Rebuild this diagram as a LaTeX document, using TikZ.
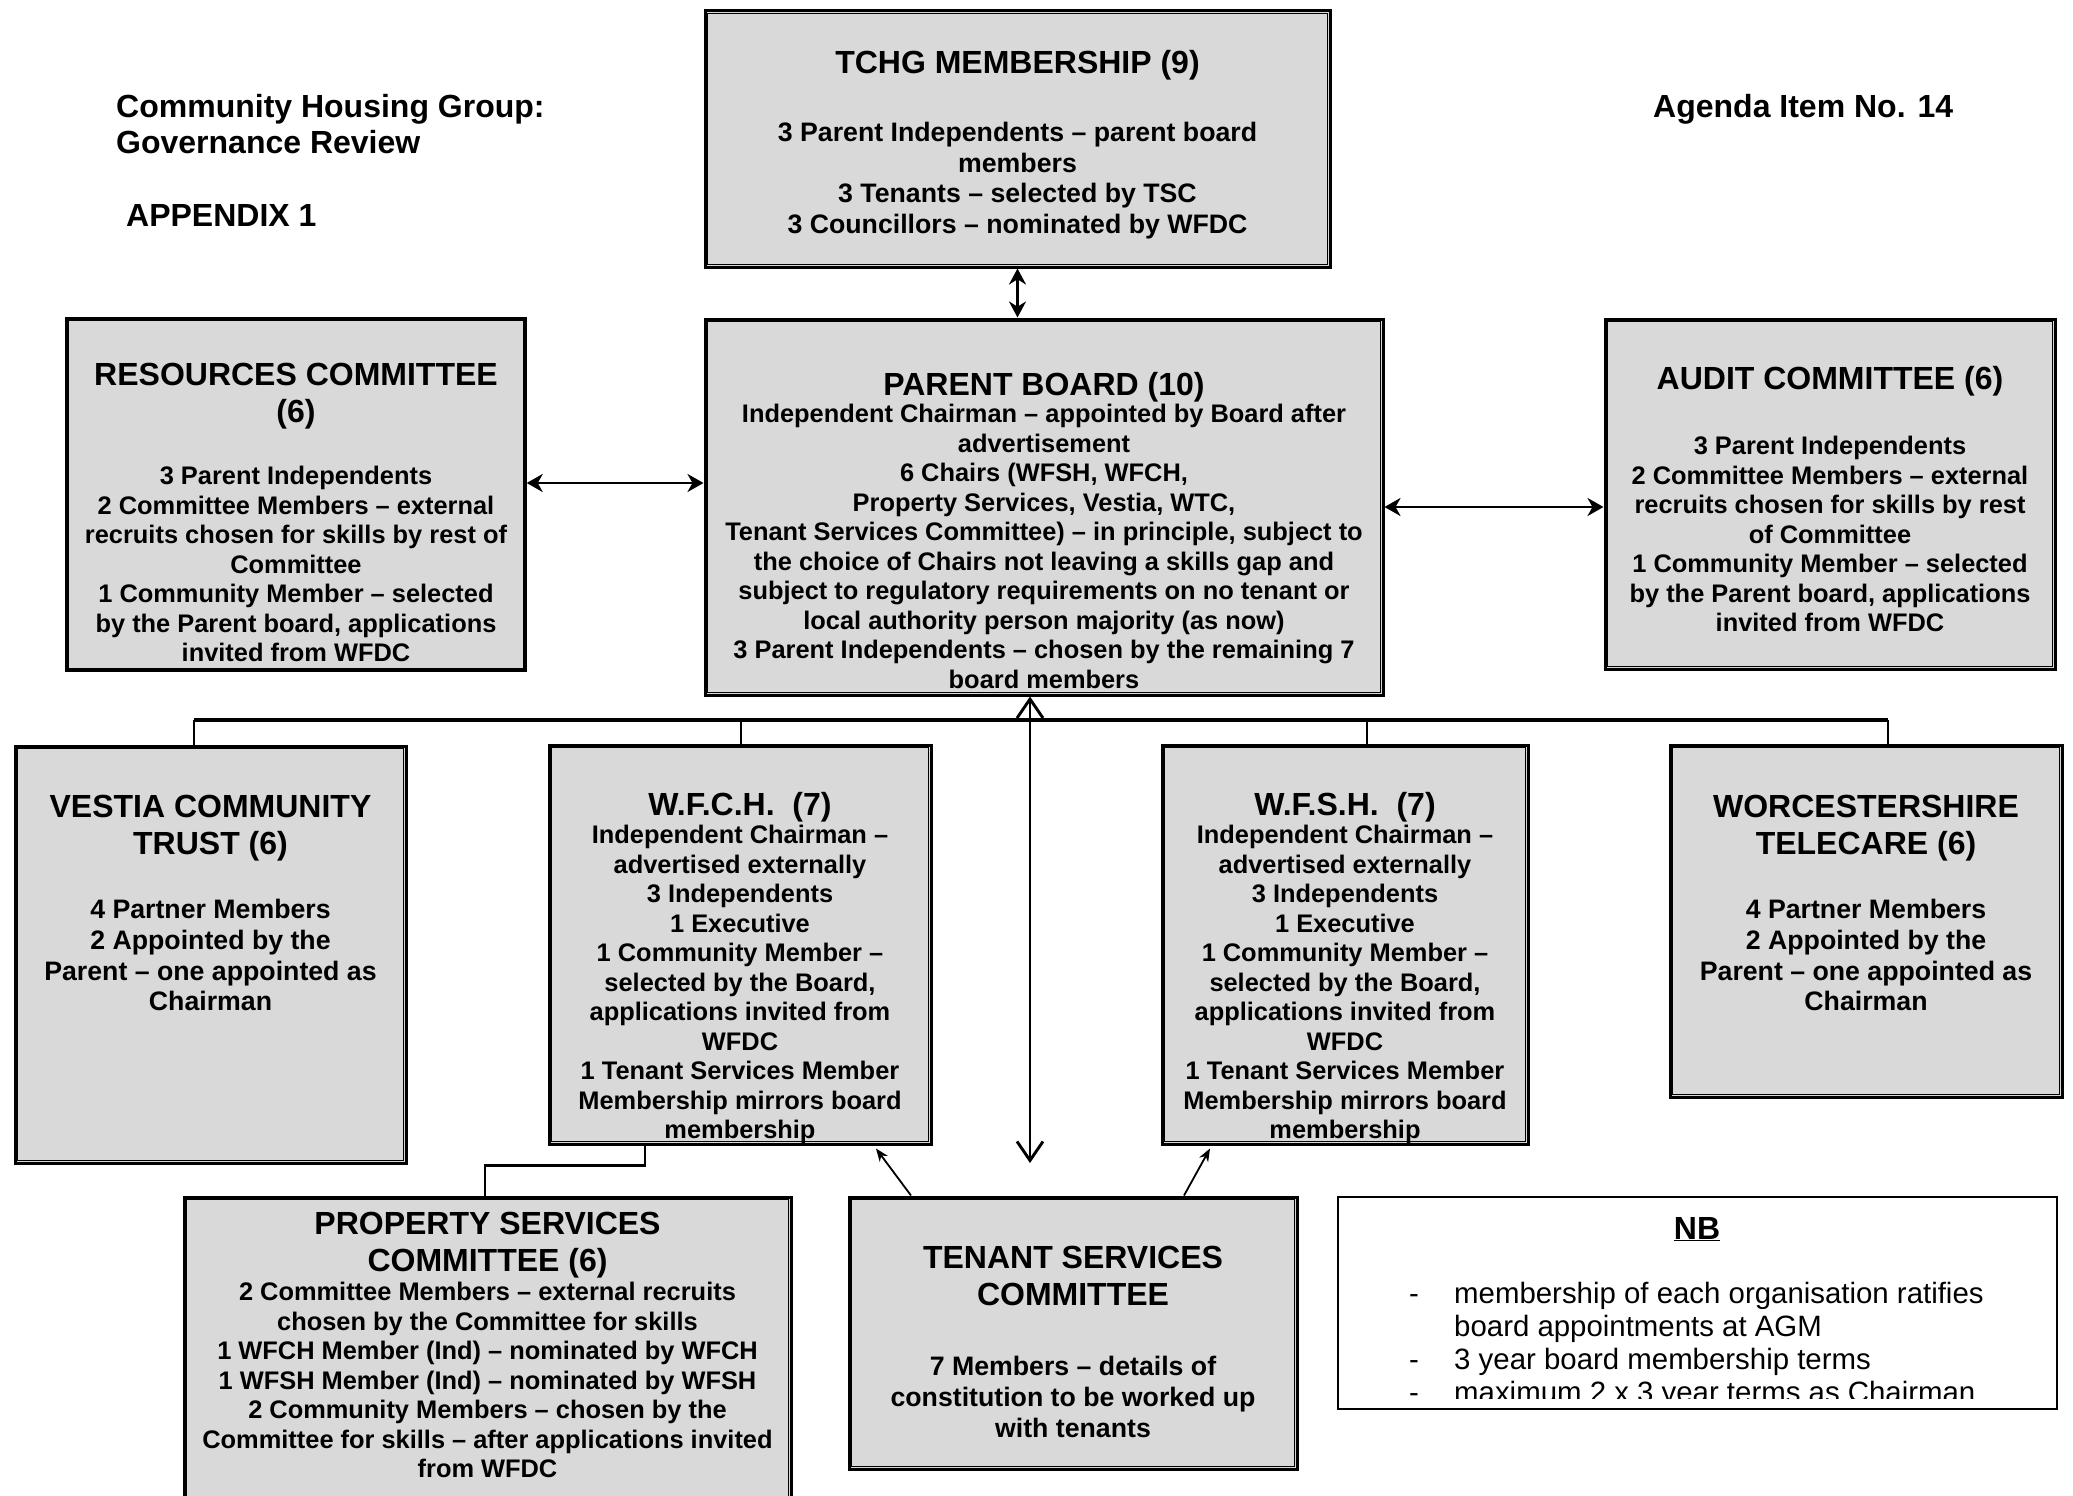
\documentclass[tikz,border=0pt]{standalone}
\usepackage{fontspec}
\setmainfont{Liberation Sans}
\usetikzlibrary{arrows.meta,positioning}
\definecolor{boxgrey}{RGB}{217,217,217}

\begin{document}
\begin{tikzpicture}[x=1pt, y=-1pt,
    box/.style={draw, fill=boxgrey, line width=3pt, inner sep=0pt},
    inline/.style={line width=1.4pt},
    head/.style={font=\bfseries\fontsize{32}{35.7}\selectfont, inner sep=0pt},
    ttl/.style={font=\bfseries\fontsize{32}{37}\selectfont, align=center, anchor=north, inner sep=0pt, execute at begin node=\strut},
    txt/.style={font=\bfseries\fontsize{25.4}{29.5}\selectfont, align=center, anchor=north, inner sep=0pt, execute at begin node=\strut},
    bigtxt/.style={txt, font=\bfseries\fontsize{26.7}{#1}\selectfont},
    nbtxt/.style={font=\fontsize{29.4}{33}\selectfont, inner sep=0pt},
    tcharrow/.style={{Stealth[length=16pt,width=17pt]}-{Stealth[length=16pt,width=17pt]}, line width=2.6pt},
    harrow/.style={{Stealth[length=16pt,width=18pt,inset=5pt]}-{Stealth[length=16pt,width=18pt,inset=5pt]}, line width=2.8pt},
    vbig/.style={{Straight Barb[length=19pt,width=26pt]}-{Straight Barb[length=19pt,width=26pt]}, line width=2.9pt},
    tscarrow/.style={-{Stealth[length=13pt,width=10pt]}, line width=1.8pt},
    busline/.style={line width=3.4pt},
    drop/.style={line width=2.4pt}]

  \clip (0,0) rectangle (2073,1496);
  \fill[white] (0,0) rectangle (2073,1496);

  \node[head, anchor=north west, align=left] (hdr) at (116,92.5) {\strut Community Housing Group:\\Governance Review};
  \node[head, anchor=base west] (app) at (126,226.5) {APPENDIX 1};
  \node[head, anchor=base west] (agenda) at (1653,117.5) {Agenda Item No. 14};

  \foreach \n/\x/\y/\w/\h in {tchg/1017.5/139/625/256, parent/1044/507/678/376, audit/1830/494/450/350,
      vestia/210.5/954.5/391/417, wfch/740/944.5/382/399, wfsh/1345/944.5/366/399,
      worcs/1866/921/392/352, prop/487.5/1363.5/607/333, tsc/1073/1333/448/272}
  {
    \node[box, minimum width=\w pt, minimum height=\h pt] (\n) at (\x,\y) {};
    \draw[inline] ([shift={(3.8pt,3.8pt)}]\n.south west) rectangle ([shift={(-3.8pt,-3.8pt)}]\n.north east);
  }
  \node[box, line width=3.4pt, minimum width=458pt, minimum height=351pt] (res) at (296,494.5) {};
  \node[draw, fill=white, line width=1.8pt, minimum width=719pt, minimum height=212pt] (nb) at (1697.5,1303) {};

  \node[ttl] (tchgT) at (1017.5,47.6) {TCHG MEMBERSHIP (9)};
  \node[bigtxt=30.4] (tchgB) at (1017.5,122.3) {3 Parent Independents – parent board\\members\\3 Tenants – selected by TSC\\3 Councillors – nominated by WFDC};

  \node[ttl] (parentT) at (1044,369) {PARENT BOARD (10)};
  \node[txt] (parentB) at (1044,404) {Independent Chairman – appointed by Board after\\advertisement\\6 Chairs (WFSH, WFCH,\\Property Services, Vestia, WTC,\\Tenant Services Committee) – in principle, subject to\\the choice of Chairs not leaving a skills gap and\\subject to regulatory requirements on no tenant or\\local authority person majority (as now)\\3 Parent Independents – chosen by the remaining 7\\board members};

  \node[ttl] (resT) at (296,363) {RESOURCES COMMITTEE\\(6)};
  \node[txt] (resB) at (296,466) {3 Parent Independents\\2 Committee Members – external\\recruits chosen for skills by rest of\\Committee\\1 Community Member – selected\\by the Parent board, applications\\invited from WFDC};

  \node[ttl] (auditT) at (1830,363) {AUDIT COMMITTEE (6)};
  \node[txt] (auditB) at (1830,436) {3 Parent Independents\\2 Committee Members – external\\recruits chosen for skills by rest\\of Committee\\1 Community Member – selected\\by the Parent board, applications\\invited from WFDC};

  \node[ttl] (vestiaT) at (210.5,795) {VESTIA COMMUNITY\\TRUST (6)};
  \node[bigtxt=30.8] (vestiaB) at (210.5,899) {4 Partner Members\\2 Appointed by the\\Parent – one appointed as\\Chairman};

  \node[ttl] (wfchT) at (740,789) {W.F.C.H.~~(7)};
  \node[txt] (wfchB) at (740,825) {Independent Chairman –\\advertised externally\\3 Independents\\1 Executive\\1 Community Member –\\selected by the Board,\\applications invited from\\WFDC\\1 Tenant Services Member\\Membership mirrors board\\membership};

  \node[ttl] (wfshT) at (1345,789) {W.F.S.H.~~(7)};
  \node[txt] (wfshB) at (1345,825) {Independent Chairman –\\advertised externally\\3 Independents\\1 Executive\\1 Community Member –\\selected by the Board,\\applications invited from\\WFDC\\1 Tenant Services Member\\Membership mirrors board\\membership};

  \node[ttl] (worcsT) at (1866,795) {WORCESTERSHIRE\\TELECARE (6)};
  \node[bigtxt=30.8] (worcsB) at (1866,899) {4 Partner Members\\2 Appointed by the\\Parent – one appointed as\\Chairman};

  \node[ttl] (propT) at (487.5,1212) {PROPERTY SERVICES\\COMMITTEE (6)};
  \node[txt] (propB) at (487.5,1282) {2 Committee Members – external recruits\\chosen by the Committee for skills\\1 WFCH Member (Ind) – nominated by WFCH\\1 WFSH Member (Ind) – nominated by WFSH\\2 Community Members – chosen by the\\Committee for skills – after applications invited\\from WFDC};

  \node[ttl] (tscT) at (1073,1246) {TENANT SERVICES\\COMMITTEE};
  \node[bigtxt=31] (tscB) at (1073,1356) {7 Members – details of\\constitution to be worked up\\with tenants};

  \node[ttl] (nbT) at (1697,1213) {\underline{NB}};
  \begin{scope}
    \clip (nb.north west) rectangle ([yshift=11pt]nb.south east);
    \node[nbtxt, anchor=north west] (nbB) at (1409,1280.5) {\begin{tabular}{@{}p{45pt}@{}l@{}}
      -&membership of each organisation ratifies\\
       &board appointments at AGM\\
      -&3 year board membership terms\\
      -&maximum 2 x 3 year terms as Chairman
    \end{tabular}};
  \end{scope}

  \coordinate (busw) at (194,720);
  \coordinate (buse) at (1888,720);
  \coordinate (vend) at (1030,1163);

  \draw[tcharrow] (tchg.south) -- (parent.north -| tchg.south);
  \draw[harrow] ([yshift=11.5pt]res.east) -- ([yshift=11.5pt]res.east -| parent.west);
  \draw[harrow] (parent.east) -- (parent.east -| audit.west);
  \draw[busline] (busw) -- (buse);
  \foreach \n/\d in {vestia/-16.5, wfch/1, wfsh/22, worcs/22}
    \draw[drop] ([xshift=\d pt]\n.north) -- ([xshift=\d pt]\n.north |- busw);
  \draw[vbig] (vend |- parent.south) -- (vend);
  \draw[drop] ([xshift=-95pt]wfch.south) -- ++(0,-20pt) -| ([xshift=-2.5pt]prop.north);
  \draw[tscarrow] ([xshift=-162pt]tsc.north) -- ([xshift=136pt,yshift=-3pt]wfch.south);
  \draw[tscarrow] ([xshift=111pt]tsc.north) -- ([xshift=-135pt,yshift=-3pt]wfsh.south);

\end{tikzpicture}
\end{document}
